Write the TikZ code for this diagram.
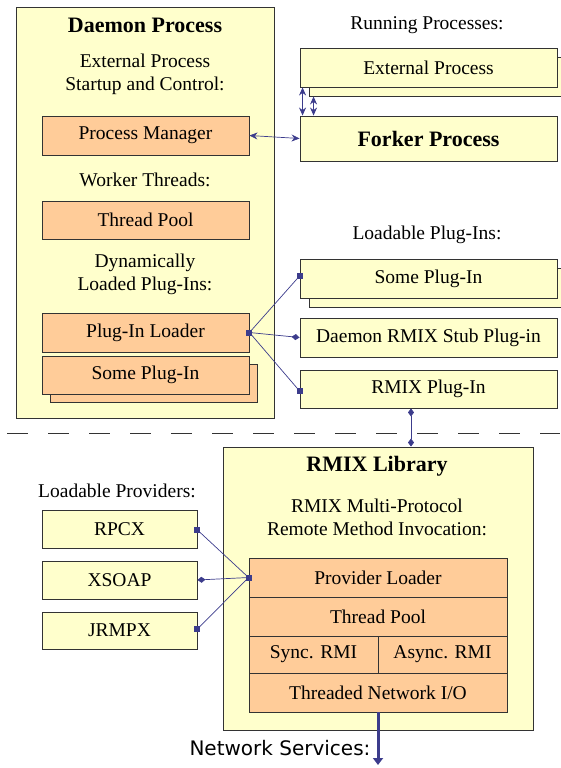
\documentclass[tikz,border=0pt]{standalone}
\usepackage{fontspec}
\setmainfont{Liberation Serif}
\newfontfamily\verdanalike{DejaVu Sans}
\usetikzlibrary{arrows.meta}
\definecolor{boxyellow}{HTML}{FFFFCC}
\definecolor{boxorange}{HTML}{FFCC99}
\definecolor{linkblue}{HTML}{3C3C8C}
\definecolor{edgegray}{HTML}{333333}
\tikzset{
  sq/.tip={Square[length=6pt, width=6pt]},
  dm/.tip={Diamond[length=8pt, width=6pt]},
  st/.tip={Stealth[length=8pt, width=7pt]}
}
% axis-aligned square end marker
\newcommand{\sqmark}[1]{\fill[linkblue] (#1) +(-3,-3) rectangle +(3,3);}
\begin{document}
\begin{tikzpicture}[x=1pt, y=-1pt,
    every node/.style={font=\fontsize{19.5}{23}\selectfont, inner sep=0pt},
    outerbox/.style={draw=edgegray, line width=0.9pt, fill=boxyellow},
    ybox/.style={draw=edgegray, line width=0.9pt, fill=boxyellow, minimum width=257pt, minimum height=39pt},
    obox/.style={draw=edgegray, line width=0.9pt, fill=boxorange, minimum width=207pt, minimum height=39pt},
    title/.style={font=\fontsize{22}{26}\selectfont\bfseries},
    caption/.style={align=center},
    link/.style={draw=linkblue, line width=0.7pt}]
    \useasboundingbox (0,0) rectangle (560,768);
    % daemon process
    \node (daemon) at (145,212.5) [outerbox, minimum width=258pt, minimum height=411pt] {};
    \node (dtitle) at (145,25) [title] {Daemon Process};
    \node (dctl) at (145,74) [caption] {External Process\\Startup and Control:};
    \node (pmgr) at (145.5,135.5) [obox] {Process Manager};
    \node (dwork) at (145,180) {Worker Threads:};
    \node (dpool) at (145.5,220) [obox, minimum height=38pt] {Thread Pool};
    \node (ddyn) at (145,274) [caption] {Dynamically\\Loaded Plug-Ins:};
    \node (ldr) at (145.5,332.5) [obox] {Plug-In Loader};
    \node (dplugsh) at (153.5,383) [obox, minimum height=38pt] {};
    \node (dplug) at (145.5,375) [obox, minimum height=38pt] {Some Plug-In};
    % running processes
    \node (run) at (427,25) {Running Processes:};
    \node (extsh) at (437.5,76.5) [ybox] {};
    \node (ext) at (428.5,67.5) [ybox] {External Process};
    \node (fork) at (428.5,138.5) [ybox, minimum height=45pt, title] {Forker Process};
    % loadable plug-ins
    \node (lpi) at (427,235) {Loadable Plug-Ins:};
    \node (splugsh) at (437.5,287.5) [ybox] {};
    \node (splug) at (428.5,278.5) [ybox] {Some Plug-In};
    \node (stub) at (428.5,337.5) [ybox] {Daemon RMIX Stub Plug-in};
    \node (rplug) at (428.5,389) [ybox, minimum height=38pt] {RMIX Plug-In};
    % separator
    \draw[edgegray, line width=0.9pt, dash pattern=on 21pt off 20pt, dash phase=-7pt] (0,433) -- (560,433);
    % rmix library
    \node (rlib) at (378,588.5) [outerbox, minimum width=310pt, minimum height=283pt] {};
    \node (rtitle) at (377,466) [title] {RMIX Library};
    \node (rcap) at (377,517) [caption] {RMIX Multi-Protocol\\Remote Method Invocation:};
    \node (prov) at (378,577.5) [obox, minimum width=258pt] {Provider Loader};
    \node (rpool) at (378,616.5) [obox, minimum width=258pt] {Thread Pool};
    \node (sync) at (313.5,654.5) [obox, minimum width=129pt, minimum height=37pt] {Sync. RMI};
    \node (async) at (442.5,654.5) [obox, minimum width=129pt, minimum height=37pt] {Async. RMI};
    \node (io) at (378,692.5) [obox, minimum width=258pt] {Threaded Network I/O};
    % providers
    \node (lprov) at (117,491) {Loadable Providers:};
    \node (rpcx) at (119.5,529) [ybox, minimum width=155pt, minimum height=38pt] {RPCX};
    \node (xsoap) at (119.5,580) [ybox, minimum width=155pt, minimum height=38pt] {XSOAP};
    \node (jrmpx) at (119.5,630.5) [ybox, minimum width=155pt, minimum height=37pt] {JRMPX};
    \node (net) at (280,748) [font=\fontsize{20}{24}\selectfont\verdanalike] {Network Services:};
    \coordinate (netend) at (378,765);
    % connectors
    \draw[link, st-st] (pmgr.east) -- (fork.west);
    \draw[link, line width=1pt, st-st] ([xshift=3pt]ext.south west) -- ([xshift=3pt]fork.north west);
    \draw[link, line width=1pt, st-st] ([xshift=5pt]extsh.south west) -- ([xshift=14pt]fork.north west);
    \draw[link] (ldr.east) -- ([yshift=2.5pt]splug.west);
    \draw[link, -dm] (ldr.east) -- (stub.west);
    \draw[link] (ldr.east) -- ([yshift=-2pt]rplug.west);
    \sqmark{ldr.east}
    \sqmark{[yshift=2.5pt]splug.west}
    \sqmark{[yshift=-2pt]rplug.west}
    \draw[link, dm-dm] ([xshift=-17.5pt]rplug.south) -- ([xshift=33pt]rlib.north);
    \draw[link] ([yshift=-1pt]rpcx.east) -- (prov.west);
    \draw[link, dm-] (xsoap.east) -- (prov.west);
    \draw[link] ([yshift=1.5pt]jrmpx.east) -- (prov.west);
    \sqmark{[yshift=-1pt]rpcx.east}
    \sqmark{[yshift=1.5pt]jrmpx.east}
    \sqmark{prov.west}
    \draw[link, line width=3pt, -{Triangle[length=7pt, width=10pt]}] (io.south) -- (netend);
\end{tikzpicture}
\end{document}
